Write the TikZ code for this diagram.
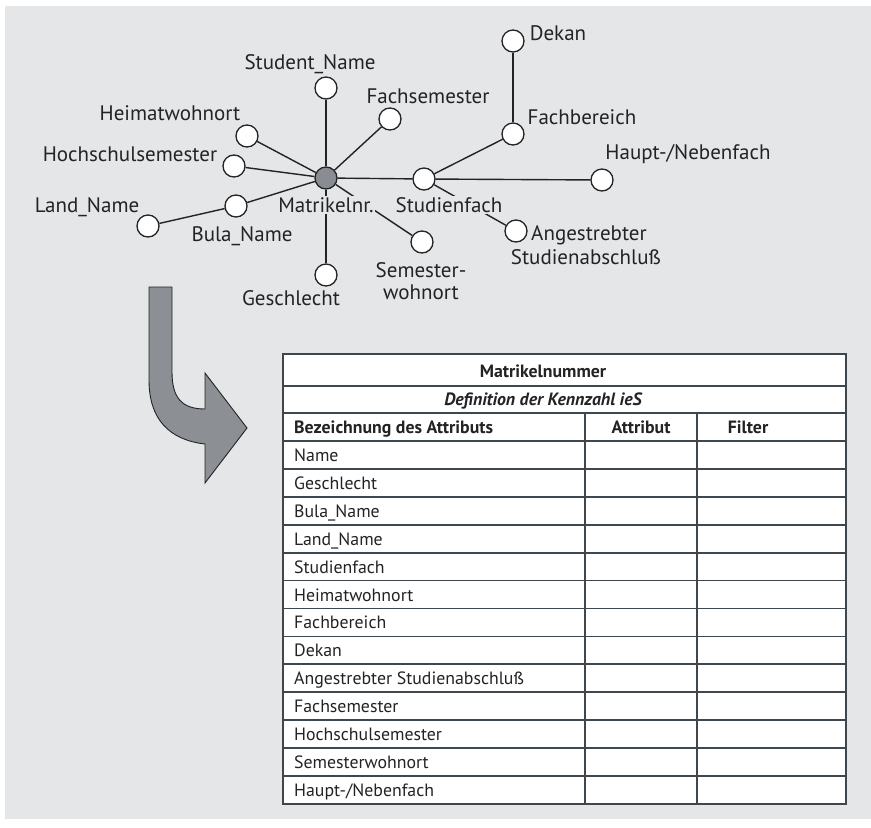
\documentclass[tikz,border=0pt]{standalone}
\usepackage{fontspec}
\setmainfont{PT Sans}
\definecolor{bg}{RGB}{229,230,232}
\definecolor{ink}{RGB}{35,35,38}
\definecolor{rulec}{RGB}{62,70,78}
\definecolor{hub}{RGB}{137,141,147}
\definecolor{arrowgray}{RGB}{140,143,148}
\pgfdeclarelayer{backdrop}
\pgfdeclarelayer{edges}
\pgfsetlayers{backdrop,edges,main}
\begin{document}
\begin{tikzpicture}[x=1pt,y=-1pt,
  attr/.style={circle, draw=ink, line width=1.3pt, fill=white, minimum size=22pt, inner sep=0pt},
  keyattr/.style={attr, fill=hub},
  link/.style={draw=ink, line width=1.4pt},
  lbl/.style={font=\fontsize{21}{24}\selectfont, text=ink, inner sep=1.5pt, anchor=base},
  masklbl/.style={lbl, fill=bg},
  cell/.style={font=\fontsize{17.8}{21}\selectfont, text=ink, inner sep=0pt, anchor=base west},
  headcell/.style={font=\fontsize{17.8}{21}\selectfont\bfseries, text=ink, inner sep=0pt, anchor=base},
  gridline/.style={draw=rulec, line width=1.8pt},
  bend arrow/.style={fill=arrowgray, draw=ink, line width=0.9pt, line join=miter}
]
\useasboundingbox (0,0) rectangle (871,828);
\begin{pgfonlayer}{backdrop}
  \fill[bg] (5,6) rectangle (871,819);
\end{pgfonlayer}

% ---- attribute graph ----
\node[keyattr] (mat)   at (326,178) {};
\node[attr]    (stud)  at (326,88)  {};
\node[attr]    (fsem)  at (390,119) {};
\node[attr]    (heim)  at (247,136) {};
\node[attr]    (hoch)  at (234,166) {};
\node[attr]    (bula)  at (236,206) {};
\node[attr]    (land)  at (148,226) {};
\node[attr]    (gesch) at (326,275) {};
\node[attr]    (swohn) at (422,242) {};
\node[attr]    (sfach) at (424,179) {};
\node[attr]    (fber)  at (513,134) {};
\node[attr]    (dekan) at (513,41)  {};
\node[attr]    (haupt) at (602,180) {};
\node[attr]    (abschl) at (516,231) {};

\begin{pgfonlayer}{edges}
  \foreach \t in {stud,fsem,heim,hoch,bula,gesch,swohn,sfach}
    \draw[link] (mat) -- (\t);
  \draw[link] (bula) -- (land);
  \draw[link] (sfach) -- (fber);
  \draw[link] (fber) -- (dekan);
  \draw[link] (sfach) -- (haupt);
  \draw[link] (sfach) -- (abschl);
\end{pgfonlayer}

\node[lbl] (tstud)  at (310,69)  {Student\_Name};
\node[lbl] (tfsem)  at (428,103) {Fachsemester};
\node[lbl] (theim)  at (170,120) {Heimatwohnort};
\node[lbl] (thoch)  at (130,161) {Hochschulsemester};
\node[lbl] (tland)  at (87,212)  {Land\_Name};
\node[lbl] (tbula)  at (242,241) {Bula\_Name};
\node[masklbl] (tmat) at (326,212) {Matrikelnr.};
\node[lbl] (tgesch) at (291,305) {Geschlecht};
\node[lbl] (tswohnA) at (421,277) {Semester-};
\node[lbl] (tswohnB) at (421,299) {wohnort};
\node[masklbl] (tsfach) at (449,212) {Studienfach};
\node[lbl] (tdekan) at (558,40)  {Dekan};
\node[lbl] (tfber)  at (582,124) {Fachbereich};
\node[lbl] (thaupt) at (688,159) {Haupt-/Nebenfach};
\node[lbl] (tabsA)  at (589,240) {Angestrebter};
\node[lbl] (tabsB)  at (586,264) {Studienabschluß};

% ---- bent arrow ----
\draw[bend arrow] (149,287) -- (172,287) -- (172,372)
  .. controls (172,398) and (182,409) .. (205,409)
  -- (205,373) -- (247,428) -- (205,483) -- (205,444)
  .. controls (170,440) and (149,420) .. (149,380) -- cycle;

% ---- key figure table ----
\fill[white] (283,354) rectangle (846,804);
\draw[gridline] (283,386) -- (846,386);
\draw[gridline] (283,413) -- (846,413);
\foreach \k in {1,...,13}
  \draw[gridline] (283,{413+27.93*\k}) -- (846,{413+27.93*\k});
\draw[gridline] (585,413) -- (585,804);
\draw[gridline] (697,413) -- (697,804);
\draw[gridline] (283,354) rectangle (846,804);

\node[headcell] (hkey)  at (543,377) {Matrikelnummer};
\node[headcell, font=\fontsize{17.8}{21}\selectfont\bfseries\itshape] (hdef) at (543,405) {Definition der Kennzahl ieS};
\node[headcell, anchor=base west] (hname) at (294,433) {Bezeichnung des Attributs};
\node[headcell] (hattr) at (641,433) {Attribut};
\node[headcell] (hfilt) at (748,433) {Filter};

\foreach \t [count=\i] in {Name, Geschlecht, Bula\_Name, Land\_Name, Studienfach,
    Heimatwohnort, Fachbereich, Dekan, Angestrebter Studienabschluß, Fachsemester,
    Hochschulsemester, Semesterwohnort, Haupt-/Nebenfach}
  \node[cell] (row\i) at (294,{413+27.93*(\i+1)-7.5}) {\t};
\end{tikzpicture}
\end{document}
